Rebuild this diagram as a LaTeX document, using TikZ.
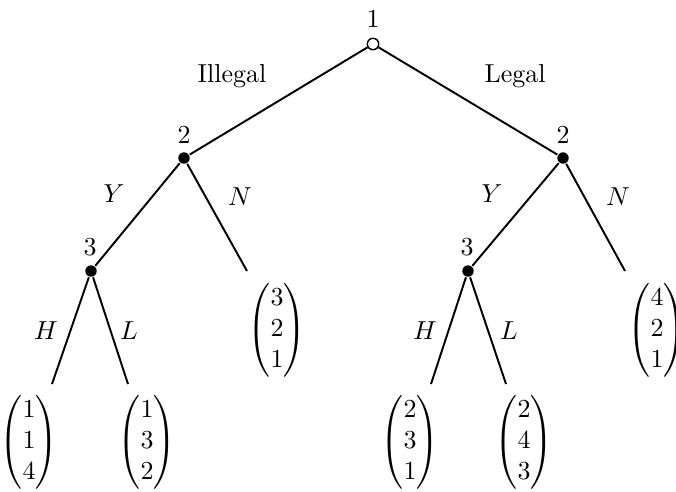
\documentclass[tikz,border=0pt]{standalone}
\usepackage{amsmath}
\begin{document}
\begin{tikzpicture}[x=0.385pt,y=-0.385pt,line width=0.75pt,
  opendot/.style={circle,draw,fill=white,inner sep=0pt,minimum size=4.4pt,line width=0.55pt},
  fdot/.style={circle,fill=black,inner sep=0pt,minimum size=4.4pt},
  payoff/.style={inner sep=0pt},
  lbl/.style={inner sep=0pt}]
\useasboundingbox (0,0) rectangle (676,491);
% decision nodes
\node[opendot] (r) at (373,44) {};
\node[fdot] (a) at (184,158) {};
\node[fdot] (b) at (563,158) {};
\node[fdot] (a3) at (91,271) {};
\node[fdot] (b3) at (468,271) {};
% ends
\coordinate (aN) at (247,271);
\coordinate (bN) at (625,271);
\coordinate (aH) at (52,384);
\coordinate (aL) at (128,384);
\coordinate (bH) at (431,384);
\coordinate (bL) at (506,384);
% edges
\draw (r) -- (a);
\draw (r) -- (b);
\draw (a) -- (a3);
\draw (a) -- (aN);
\draw (b) -- (b3);
\draw (b) -- (bN);
\draw (a3) -- (aH);
\draw (a3) -- (aL);
\draw (b3) -- (bH);
\draw (b3) -- (bL);
% player labels
\node[lbl] (p1) at (373,19) {1};
\node[lbl] (p2a) at (184,135) {2};
\node[lbl] (p2b) at (563,135) {2};
\node[lbl] (p3a) at (90,247) {3};
\node[lbl] (p3b) at (467,247) {3};
% action labels
\node[lbl] (il) at (232,76) {Illegal};
\node[lbl] (le) at (515,76) {Legal};
\node[lbl] (y1) at (114,194) {$Y$};
\node[lbl] (n1) at (240,197) {$N$};
\node[lbl] (y2) at (492,194) {$Y$};
\node[lbl] (n2) at (618,197) {$N$};
\node[lbl] (h1) at (46,331) {$H$};
\node[lbl] (l1) at (129,331) {$L$};
\node[lbl] (h2) at (425,331) {$H$};
\node[lbl] (l2) at (509,331) {$L$};
% payoffs
\node[payoff] (v1) at (277,330) {$\begin{pmatrix}3\\2\\1\end{pmatrix}$};
\node[payoff] (v2) at (657,330) {$\begin{pmatrix}4\\2\\1\end{pmatrix}$};
\node[payoff] (v3) at (29,442) {$\begin{pmatrix}1\\1\\4\end{pmatrix}$};
\node[payoff] (v4) at (147,442) {$\begin{pmatrix}1\\3\\2\end{pmatrix}$};
\node[payoff] (v5) at (410,442) {$\begin{pmatrix}2\\3\\1\end{pmatrix}$};
\node[payoff] (v6) at (524,442) {$\begin{pmatrix}2\\4\\3\end{pmatrix}$};
\end{tikzpicture}
\end{document}
